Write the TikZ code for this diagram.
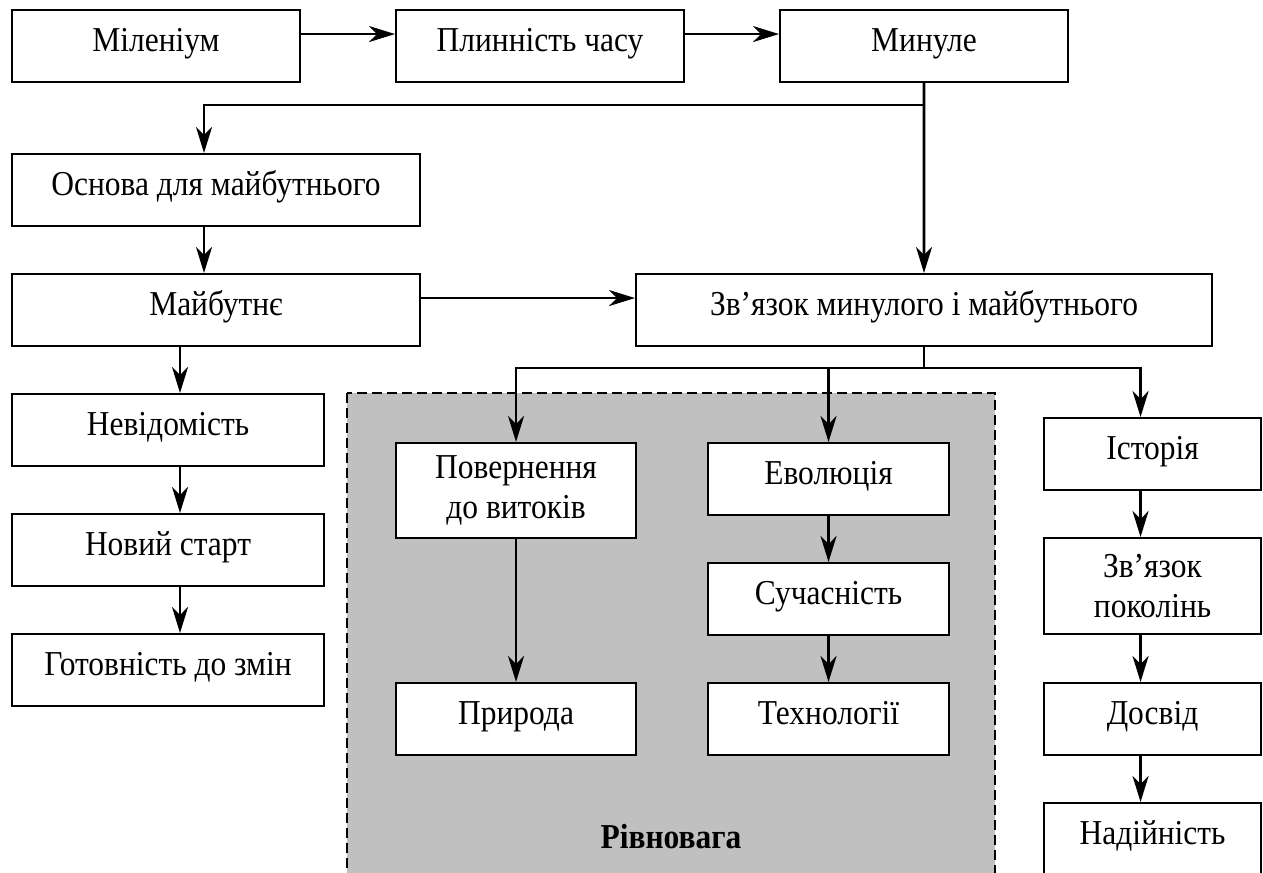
\documentclass[tikz,border=0pt]{standalone}
\usepackage{fontspec}
\setmainfont{Liberation Serif}[FakeStretch=0.9]
\usetikzlibrary{arrows.meta}
\definecolor{zonegray}{RGB}{192,192,192}

\begin{document}
\begin{tikzpicture}[x=0.02cm,y=-0.02cm,
  box/.style={draw,fill=white,line width=1.2pt,anchor=north west,inner sep=0pt,
    font=\fontsize{19.9}{22.8}\selectfont,text height=0.82cm,text depth=0.62cm,align=center},
  tallbox/.style={draw,fill=white,line width=1.2pt,anchor=north west,inner sep=0pt,
    font=\fontsize{19.9}{22.8}\selectfont,align=center},
  arr/.style={line width=1.5pt,-{Stealth[length=0.52cm,width=0.32cm,inset=0.16cm]}},
  link/.style={line width=1.5pt}]
\useasboundingbox (0,0) rectangle (1263,872);
\draw[fill=zonegray,line width=1.1pt,dash pattern=on 0.2cm off 0.1cm] (347,393) rectangle (995,880);
\node[font=\fontsize{19.9}{22.8}\selectfont\bfseries,anchor=base] (rivn) at (671,848) {Рівновага};

\node[box,minimum width=5.76cm] (mil) at (11,9) {Міленіум};
\node[box,minimum width=5.76cm] (plyn) at (395,9) {Плинність часу};
\node[box,minimum width=5.76cm] (mynule) at (779,9) {Минуле};
\node[box,minimum width=8.16cm] (osnova) at (11,153) {Основа для майбутнього};
\node[box,minimum width=8.16cm] (maib) at (11,273) {Майбутнє};
\node[box,minimum width=11.52cm] (zvyazok) at (635,273) {Зв’язок минулого і майбутнього};
\node[box,minimum width=6.24cm] (nevid) at (11,393) {Невідомість};
\node[box,minimum width=6.24cm] (novyi) at (11,513) {Новий старт};
\node[box,minimum width=6.24cm] (gotov) at (11,633) {Готовність до змін};
\node[tallbox,minimum width=4.8cm,minimum height=1.9cm] (povern) at (395,442) {Повернення\\до витоків};
\node[box,minimum width=4.8cm] (pryroda) at (395,682) {Природа};
\node[box,minimum width=4.82cm] (evol) at (707,442) {Еволюція};
\node[box,minimum width=4.82cm] (suchas) at (707,562) {Сучасність};
\node[box,minimum width=4.82cm] (tekhn) at (707,682) {Технології};
\node[box,minimum width=4.34cm] (istoriya) at (1043,417) {Історія};
\node[tallbox,minimum width=4.34cm,minimum height=1.92cm] (pokolin) at (1043,537) {Зв’язок\\поколінь};
\node[box,minimum width=4.34cm] (dosvid) at (1043,682) {Досвід};
\node[box,minimum width=4.34cm] (nadiyn) at (1043,802) {Надійність};

\coordinate (split) at (mynule.south |- 0,105);
\coordinate (fork) at (zvyazok.south |- 0,368);

\draw[arr] ([yshift=0.24cm]mil.east) -- ([yshift=0.24cm]plyn.west);
\draw[arr] ([yshift=0.24cm]plyn.east) -- ([yshift=0.24cm]mynule.west);
\draw[arr] (mynule.south) -- (zvyazok.north);
\draw[arr] (split) -| ([xshift=-0.24cm]osnova.north);
\draw[arr] ([xshift=-0.24cm]osnova.south) -- ([xshift=-0.24cm]maib.north);
\draw[arr] ([yshift=0.24cm]maib.east) -- ([yshift=0.24cm]zvyazok.west);
\draw[arr] ([xshift=0.24cm]nevid.north |- maib.south) -- ([xshift=0.24cm]nevid.north);
\draw[arr] ([xshift=0.24cm]nevid.south) -- ([xshift=0.24cm]novyi.north);
\draw[arr] ([xshift=0.24cm]novyi.south) -- ([xshift=0.24cm]gotov.north);

\draw[link] (zvyazok.south) -- (fork);
\draw[arr] (fork) -| (povern.north);
\draw[arr] (fork) -| (evol.north);
\draw[arr] (fork) -| ([xshift=-0.24cm]istoriya.north);
\draw[arr] (povern.south) -- (pryroda.north);
\draw[arr] (evol.south) -- (suchas.north);
\draw[arr] (suchas.south) -- (tekhn.north);
\draw[arr] ([xshift=-0.24cm]istoriya.south) -- ([xshift=-0.24cm]pokolin.north);
\draw[arr] ([xshift=-0.24cm]pokolin.south) -- ([xshift=-0.24cm]dosvid.north);
\draw[arr] ([xshift=-0.24cm]dosvid.south) -- ([xshift=-0.24cm]nadiyn.north);
\end{tikzpicture}
\end{document}
